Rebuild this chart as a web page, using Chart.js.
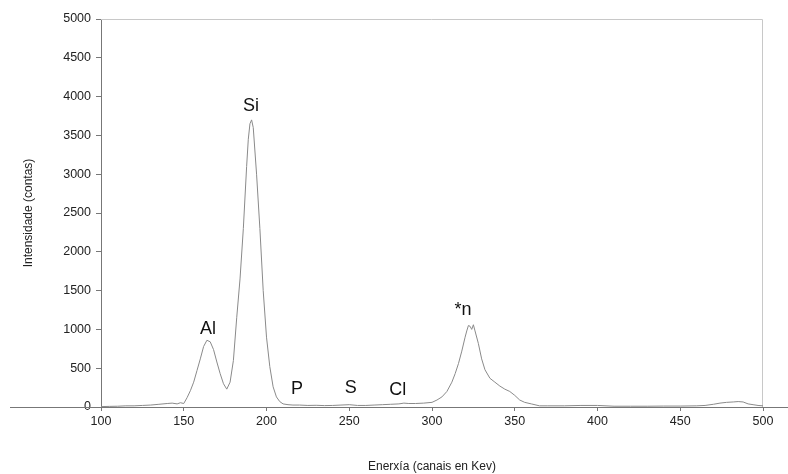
<!DOCTYPE html>
<html>
<head>
<meta charset="utf-8">
<script src="https://cdn.jsdelivr.net/npm/chart.js@4"></script>
<style>
  html, body { margin: 0; padding: 0; background: #fff; }
  #wrap { width: 788px; height: 474px; }
</style>
</head>
<body>
<div id="wrap"><canvas id="chart" width="788" height="474"></canvas></div>
<script>
// spectrum (channel -> counts)
const channels = [100,105,110,115,120,125,130,135,140,143,146,148,150,152,154,156,158,160,162,164,166,168,170,172,174,176,178,180,182,184,186,188,189,190,191,192,194,196,198,200,202,204,206,208,210,213,216,220,225,230,235,240,245,250,255,260,265,270,275,280,283,286,290,295,300,303,306,309,312,314,316,318,320,321,322,323,324,325,326,328,330,332,335,338,341,344,347,350,353,356,360,365,370,380,390,400,410,420,430,440,450,460,465,470,474,478,482,485,488,491,494,497,500];
const counts = [5,8,10,15,15,20,25,35,45,50,40,55,45,120,210,320,470,620,780,860,840,740,580,430,300,230,320,600,1150,1650,2300,3100,3450,3650,3700,3600,3000,2300,1500,900,520,260,130,70,40,30,25,25,20,22,18,20,25,30,20,20,25,30,35,40,50,45,45,50,60,90,130,200,320,430,560,720,900,980,1050,1040,1000,1060,980,820,620,480,370,320,270,230,200,150,90,60,40,15,15,15,20,20,10,10,10,12,12,15,20,35,50,60,65,70,65,40,30,20,15];

const xTicks = [100,150,200,250,300,350,400,450,500];
const yTicks = [0,500,1000,1500,2000,2500,3000,3500,4000,4500,5000];

// element labels placed over the peaks
const peakNames = ['Al','Si','P','S','Cl','*n'];
const peakX = [164.6,190.6,218.4,250.9,279.3,318.7];
const peakY = [1010,3880,230,245,220,1250];

const points = channels.map((c, i) => ({x: c, y: counts[i]}));
const font = '"Liberation Sans", Arial, sans-serif';

const extras = {
  id: 'extras',
  beforeDatasetsDraw(chart) {
    const {ctx, chartArea, scales} = chart;
    ctx.save();
    // frame on top and right
    ctx.strokeStyle = '#c8c8c8';
    ctx.lineWidth = 1;
    ctx.beginPath();
    ctx.moveTo(chartArea.left, chartArea.top + 0.5);
    ctx.lineTo(chartArea.right - 0.5, chartArea.top + 0.5);
    ctx.lineTo(chartArea.right - 0.5, chartArea.bottom);
    ctx.stroke();
    // the zero line runs the full width
    const y0 = Math.round(scales.y.getPixelForValue(0)) + 0.5;
    ctx.strokeStyle = '#777';
    ctx.beginPath();
    ctx.moveTo(10, y0);
    ctx.lineTo(chart.width, y0);
    ctx.stroke();
    ctx.restore();
  },
  afterDatasetsDraw(chart) {
    const {ctx, scales} = chart;
    ctx.save();
    ctx.fillStyle = '#111';
    ctx.font = '18px ' + font;
    ctx.textAlign = 'center';
    ctx.textBaseline = 'middle';
    peakNames.forEach((n, i) => {
      ctx.fillText(n, scales.x.getPixelForValue(peakX[i]), scales.y.getPixelForValue(peakY[i]));
    });
    ctx.restore();
  }
};

new Chart(document.getElementById('chart'), {
  type: 'line',
  data: {
    datasets: [{
      data: points,
      borderColor: '#8a8a8a',
      borderWidth: 1,
      pointRadius: 0,
      tension: 0,
      fill: false
    }]
  },
  options: {
    responsive: false,
    animation: false,
    layout: { padding: { top: 19, right: 25, left: 0, bottom: 0 } },
    plugins: { legend: { display: false }, tooltip: { enabled: false } },
    scales: {
      x: {
        type: 'linear',
        min: 100,
        max: 500,
        afterBuildTicks: s => { s.ticks = xTicks.map(v => ({value: v})); },
        afterFit: s => { s.height = 67; },
        grid: { display: true, drawOnChartArea: false, tickLength: 4, tickColor: '#777' },
        border: { display: false },
        ticks: {
          color: '#222',
          padding: 3,
          maxRotation: 0,
          callback: v => String(v),
          font: { family: font, size: 12.5 }
        },
        title: {
          display: true,
          text: 'Enerxía (canais en Kev)',
          color: '#222',
          padding: { top: 20, bottom: 0 },
          font: { family: font, size: 12 }
        }
      },
      y: {
        min: 0,
        max: 5000,
        afterBuildTicks: s => { s.ticks = yTicks.map(v => ({value: v})); },
        afterFit: s => { s.width = 101; },
        grid: { display: true, drawOnChartArea: false, tickLength: 5, tickColor: '#777' },
        border: { display: true, color: '#777', width: 1 },
        ticks: {
          color: '#222',
          padding: 5,
          callback: v => String(v),
          font: { family: font, size: 12.5 }
        },
        title: {
          display: true,
          text: 'Intensidade (contas)',
          color: '#222',
          padding: { top: 21, bottom: 0 },
          font: { family: font, size: 12 }
        }
      }
    }
  },
  plugins: [extras]
});
</script>
</body>
</html>
